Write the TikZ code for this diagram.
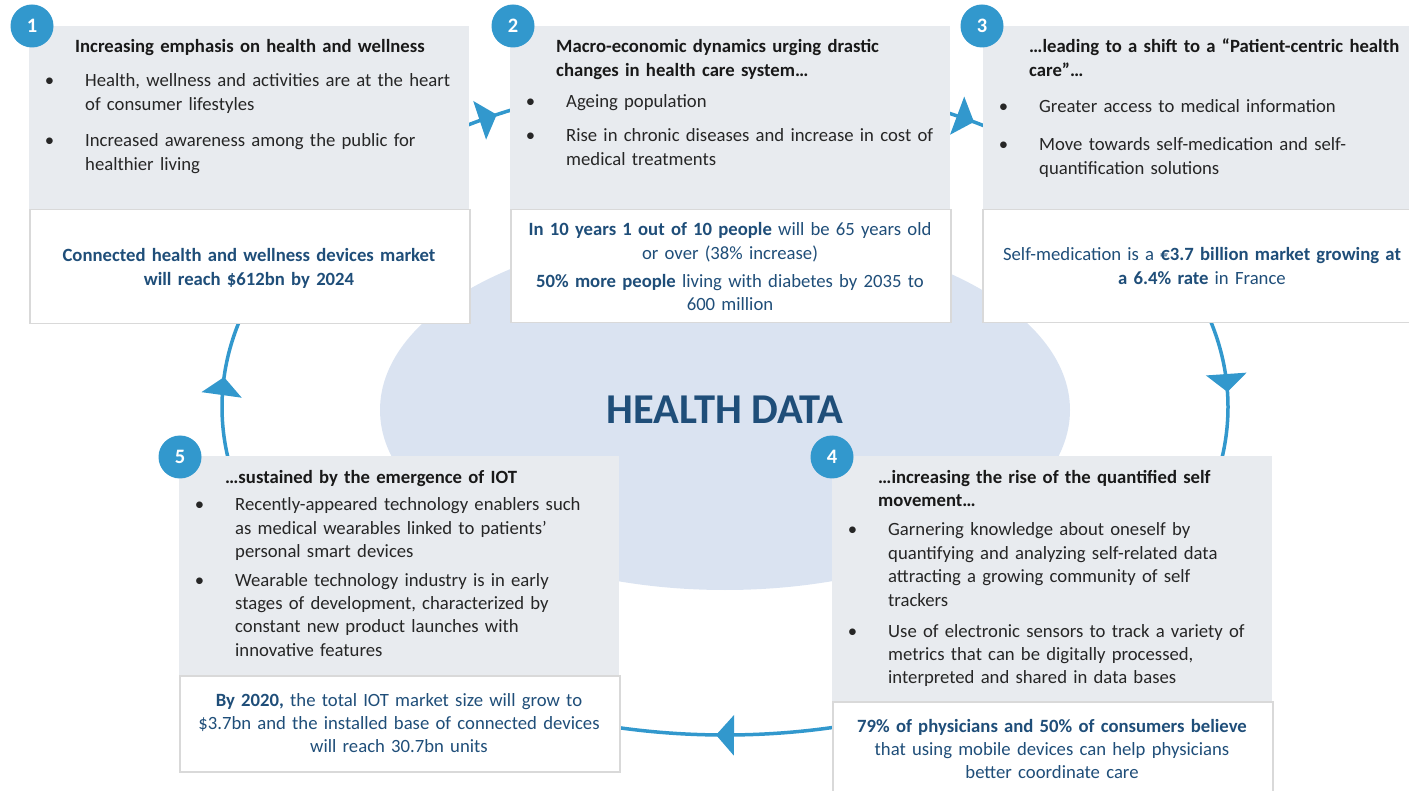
\documentclass[tikz,border=0pt]{standalone}
\usepackage{fontspec}
\setmainfont{Carlito}
\usetikzlibrary{arrows.meta}
\usetikzlibrary{decorations.markings}
\usetikzlibrary{shapes.geometric}

\definecolor{ringblue}{RGB}{50,152,205}
\definecolor{cardgray}{RGB}{232,235,239}
\definecolor{hubfill}{RGB}{218,227,241}
\definecolor{factblue}{RGB}{31,78,121}
\definecolor{bodytext}{RGB}{38,38,38}
\definecolor{framegray}{RGB}{217,217,217}

\begin{document}
\begin{tikzpicture}[
        x=1pt,y=-1pt,
        card/.style={fill=cardgray,minimum width=440pt,minimum height=#1,anchor=north west,inner sep=0pt},
        fact/.style={fill=white,draw=framegray,line width=1.5pt,minimum width=440pt,minimum height=#1,anchor=north west,inner sep=0pt},
        numdot/.style={circle,fill=ringblue,text=white,minimum size=43pt,inner sep=0pt,font=\fontsize{20.5}{24}\selectfont\bfseries},
        hub/.style={ellipse,fill=hubfill,minimum width=690pt,minimum height=360pt,inner sep=0pt,text=factblue,font=\fontsize{42.5}{48}\selectfont\bfseries},
        cardtitle/.style={anchor=base west,inner sep=0pt,text width=420pt,align=left,text=black!90,font=\fontsize{18.7}{23.4}\selectfont\bfseries},
        itemtext/.style={anchor=base west,inner sep=0pt,text width=420pt,align=left,text=bodytext,font=\fontsize{18.7}{23.4}\selectfont},
        facttext/.style={anchor=base,inner sep=0pt,text width=460pt,align=center,text=factblue,font=\fontsize{18.7}{23.4}\selectfont},
        ring/.style={draw=ringblue,line width=3.5pt,postaction={decorate},
          decoration={markings,
            mark=at position 669pt with {\arrow{Triangle[width=40pt,length=18pt]}},
            mark=at position 1350pt with {\arrow{Triangle[width=40pt,length=18pt]}},
            mark=at position 1748pt with {\arrow{Triangle[width=40pt,length=18pt]}},
            mark=at position 2234pt with {\arrow{Triangle[width=40pt,length=18pt]}},
            mark=at position 2625pt with {\arrow{Triangle[width=40pt,length=18pt]}}}}
      ]
      \clip (0,0) rectangle (1409,791);

      % centre and cycle
      \node[hub] (hub) at (725,410) {HEALTH DATA};
      \coordinate (loop) at (725,407);
      \draw[ring] (loop) ellipse [x radius=503, y radius=328];

      % cards
      \node[card=183pt] (card1) at (29,26) {};
      \node[card=183pt] (card2) at (510,26) {};
      \node[card=183pt] (card3) at (983,26) {};
      \node[card=245pt] (card4) at (832,456) {};
      \node[card=219pt] (card5) at (179,456) {};

      \node[fact=114pt] (fact1) at (29,209) {};
      \node[fact=113pt] (fact2) at (510,209) {};
      \node[fact=113pt] (fact3) at (982,209) {};
      \node[fact=120pt] (fact4) at (832,701) {};
      \node[fact=96pt] (fact5) at (179,675) {};

      % 1
      \node[cardtitle] (title1) at (75,52.5) {Increasing emphasis on health and wellness};
      \node[itemtext] (item1a) at (85,87) {\llap{\textbullet\hspace{31pt}}Health, wellness and activities are at the heart\\of consumer lifestyles};
      \node[itemtext] (item1b) at (85,147) {\llap{\textbullet\hspace{31pt}}Increased awareness among the public for\\healthier living};
      \node[facttext] (note1) at (249,262) {\textbf{Connected health and wellness devices market\\will reach \$612bn by 2024}};

      % 2
      \node[cardtitle] (title2) at (556,53) {Macro-economic dynamics urging drastic\\changes in health care system…};
      \node[itemtext] (item2a) at (566,108) {\llap{\textbullet\hspace{31pt}}Ageing population};
      \node[itemtext] (item2b) at (566,142) {\llap{\textbullet\hspace{31pt}}Rise in chronic diseases and increase in cost of\\medical treatments};
      \node[facttext] (note2) at (730,236) {\textbf{In 10 years 1 out of 10 people} will be 65 years old\\or over (38\% increase)\\[4.5pt]\textbf{50\% more people} living with diabetes by 2035 to\\600 million};

      % 3
      \node[cardtitle] (title3) at (1029,53) {…leading to a shift to a “Patient-centric health\\care”…};
      \node[itemtext] (item3a) at (1039,113) {\llap{\textbullet\hspace{31pt}}Greater access to medical information};
      \node[itemtext] (item3b) at (1039,151) {\llap{\textbullet\hspace{31pt}}Move towards self-medication and self-\\quantification solutions};
      \node[facttext] (note3) at (1202,261) {Self-medication is a \textbf{€3.7 billion market growing at\\a 6.4\% rate} in France};

      % 4
      \node[cardtitle] (title4) at (878,483) {…increasing the rise of the quantified self\\movement…};
      \node[itemtext] (item4a) at (888,536) {\llap{\textbullet\hspace{31pt}}Garnering knowledge about oneself by\\quantifying and analyzing self-related data\\attracting a growing community of self\\trackers};
      \node[itemtext] (item4b) at (888,637) {\llap{\textbullet\hspace{31pt}}Use of electronic sensors to track a variety of\\metrics that can be digitally processed,\\interpreted and shared in data bases};
      \node[facttext] (note4) at (1052,732) {\textbf{79\% of physicians and 50\% of consumers believe}\\that using mobile devices can help physicians\\better coordinate care};

      % 5
      \node[cardtitle] (title5) at (225,483) {…sustained by the emergence of IOT};
      \node[itemtext] (item5a) at (235,511) {\llap{\textbullet\hspace{31pt}}Recently-appeared technology enablers such\\as medical wearables linked to patients’\\personal smart devices};
      \node[itemtext] (item5b) at (235,586) {\llap{\textbullet\hspace{31pt}}Wearable technology industry is in early\\stages of development, characterized by\\constant new product launches with\\innovative features};
      \node[facttext] (note5) at (399,706) {\textbf{By 2020,} the total IOT market size will grow to\\\$3.7bn and the installed base of connected devices\\will reach 30.7bn units};

      % step numbers
      \foreach \n/\x/\y in {1/32/26,2/513/26,3/982/26,4/832/457,5/180/457}
        \node[numdot] (num\n) at (\x,\y) {\n};
    \end{tikzpicture}
\end{document}
